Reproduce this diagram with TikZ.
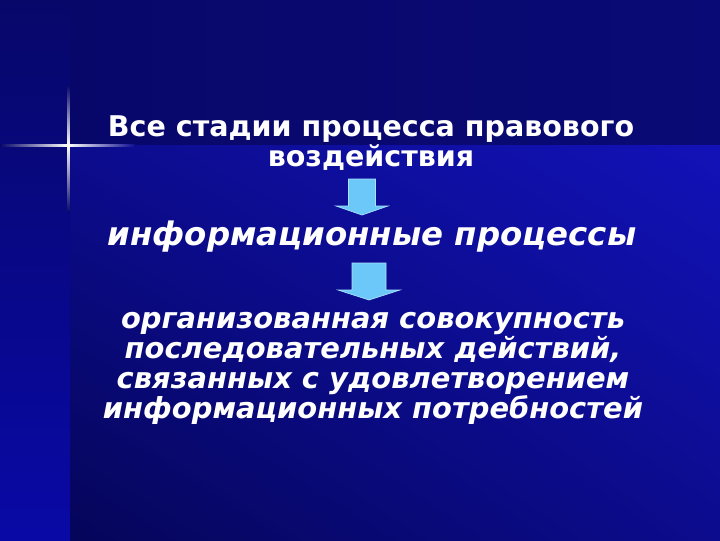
\documentclass[tikz,border=0pt]{standalone}
\usepackage{fontspec}
\setmainfont{DejaVu Sans}
\usepackage{tikz}
\usetikzlibrary{calc, shadings}
\definecolor{navytop}{HTML}{07076A}
\definecolor{navytopright}{HTML}{0A0A76}
\definecolor{navydark}{HTML}{05055A}
\definecolor{navymid}{HTML}{0C0C8E}
\definecolor{navybright}{HTML}{1212B8}
\definecolor{stripbright}{HTML}{0909A6}
\definecolor{glowblue}{HTML}{3A5CF0}
\definecolor{arrowblue}{HTML}{6CC8F8}
\definecolor{arrowedge}{HTML}{A8E2FF}

\begin{document}
\begin{tikzpicture}[x=0.75pt, y=-0.75pt,
    txt/.style={text=white, align=center, inner sep=0pt},
    blockarrow/.style={fill=arrowblue, draw=arrowedge, line width=0.5pt, line join=miter}]
        \useasboundingbox (0,0) rectangle (720,540);
        % Background
        \fill[navytop] (0,0) rectangle (720,540);
        \shade[left color=navytop, right color=navytopright] (70,0) rectangle (720,145);
        \shade[upper right=navybright, lower left=navydark, upper left=navymid, lower right=navymid] (70,145) rectangle (720,540);
        \shade[top color=navytop, bottom color=stripbright] (0,0) rectangle (70,540);
        % Sparkle
        \shade[left color=navytop, middle color=glowblue, right color=white] (0,144) rectangle (68,146.5);
        \shade[left color=white, middle color=glowblue, right color=navymid] (68,144) rectangle (135,146.5);
        \shade[top color=navytop, middle color=glowblue, bottom color=white] (67,85) rectangle (69.5,145);
        \shade[top color=white, middle color=glowblue, bottom color=navytop] (67,145) rectangle (69.5,212);
        % Texts
        \node[txt, font=\bfseries\fontsize{21.4}{22.5}\selectfont] (stages) at (371,143)
          {Все стадии процесса правового\\воздействия};
        \node[txt, font=\bfseries\itshape\fontsize{24.3}{26}\selectfont] (info) at (372,237)
          {информационные процессы};
        \node[txt, font=\bfseries\itshape\fontsize{21.7}{22.5}\selectfont] (meaning) at (373,368)
          {организованная совокупность\\последовательных действий,\\связанных с удовлетворением\\информационных потребностей};
        % Arrows
        \coordinate (a1) at (362,179);
        \coordinate (a2) at (369,263);
        \filldraw[blockarrow] ($(a1)+(-13.5,0)$) -- ($(a1)+(13.5,0)$) -- ($(a1)+(13.5,27)$) -- ($(a1)+(26,27)$)
          -- ($(a1)+(0,36)$) -- ($(a1)+(-26,27)$) -- ($(a1)+(-13.5,27)$) -- cycle;
        \filldraw[blockarrow] ($(a2)+(-17,0)$) -- ($(a2)+(17,0)$) -- ($(a2)+(17,27)$) -- ($(a2)+(31,27)$)
          -- ($(a2)+(0,37)$) -- ($(a2)+(-31,27)$) -- ($(a2)+(-17,27)$) -- cycle;
\end{tikzpicture}
\end{document}
